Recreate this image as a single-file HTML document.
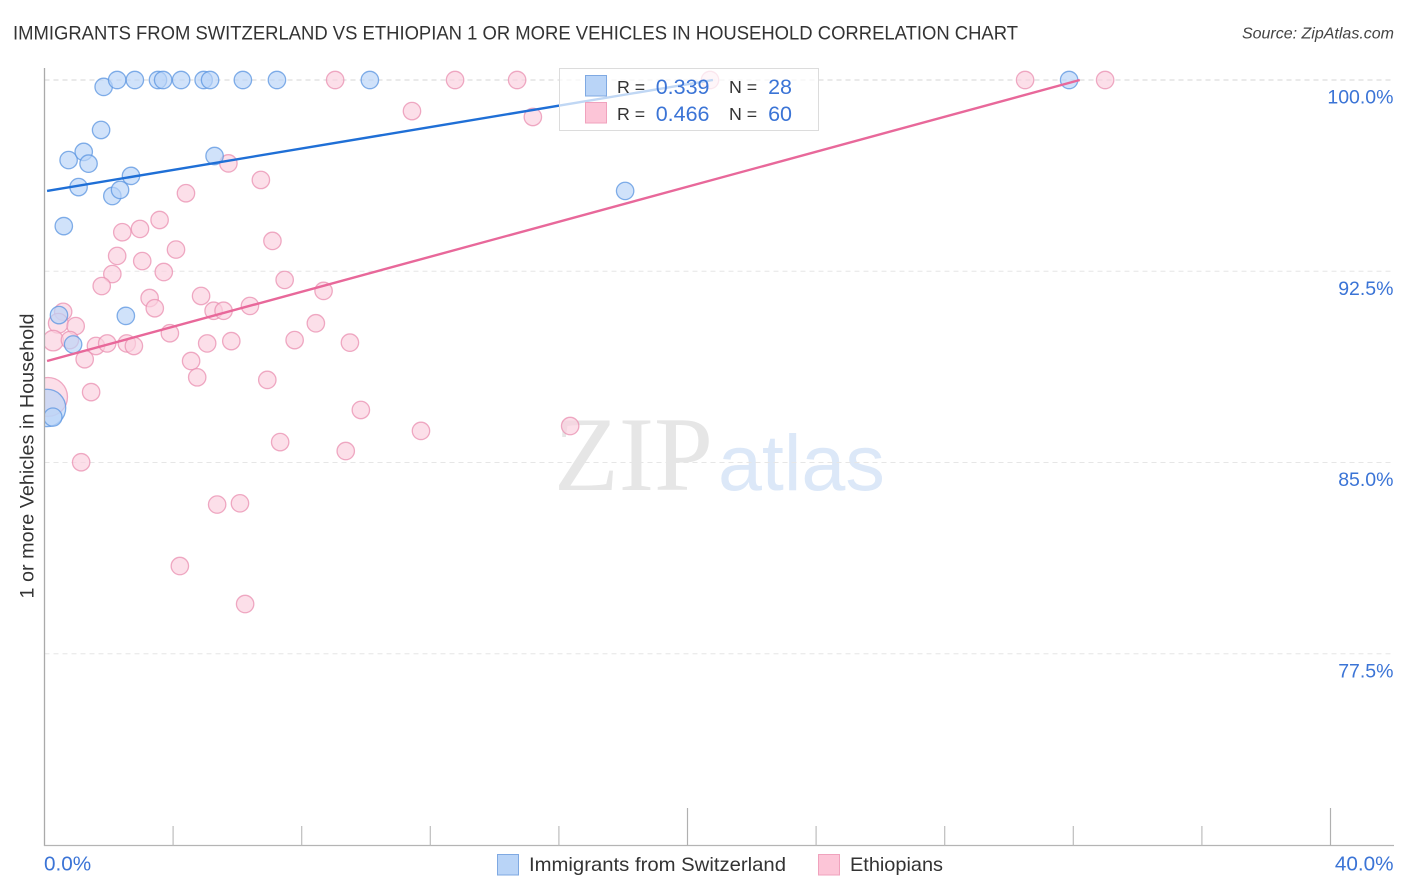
<!DOCTYPE html>
<html lang="en">
<head>
<meta charset="utf-8">
<title>Immigrants from Switzerland vs Ethiopian correlation chart</title>
<style>
html,body{margin:0;padding:0;background:#fff;width:1406px;height:892px;overflow:hidden}
svg{display:block;font-family:"Liberation Sans",sans-serif}
</style>
</head>
<body>
<svg id="chart" width="1406" height="892" viewBox="0 0 1406 892" xmlns="http://www.w3.org/2000/svg">
  <defs><clipPath id="plot-clip"><rect x="44.5" y="60" width="1350" height="786"/></clipPath></defs>
  <text x="13" y="39.5" font-size="19.5" fill="#333" textLength="1005" lengthAdjust="spacingAndGlyphs">IMMIGRANTS FROM SWITZERLAND VS ETHIOPIAN 1 OR MORE VEHICLES IN HOUSEHOLD CORRELATION CHART</text>
  <text x="1394" y="38.5" font-size="16" font-style="italic" fill="#444" text-anchor="end">Source: ZipAtlas.com</text>
  <g>
    <text x="554" y="490" font-family="'Liberation Serif',serif" font-size="106" fill="#e6e6e6">ZIP</text>
    <text x="718" y="490" font-size="79" fill="#dce8f8">atlas</text>
  </g>
  <g id="grid"></g>
  <g id="points" clip-path="url(#plot-clip)"></g>
  <g id="trends"></g>
  <g id="axes">
    <line x1="44.5" y1="68" x2="44.5" y2="846" stroke="#aaa" stroke-width="1.3"/>
    <line x1="44" y1="845.5" x2="1394" y2="845.5" stroke="#b4b4b4" stroke-width="1.3"/>
  </g>
  <g id="tick-labels"></g>
  <text transform="translate(33.5,456) rotate(-90)" font-size="19.5" fill="#333" text-anchor="middle" textLength="285" lengthAdjust="spacingAndGlyphs">1 or more Vehicles in Household</text>
  <g>
    <rect x="559.5" y="68.5" width="259" height="62" fill="#fff" fill-opacity="0.72" stroke="#dcdcdc" stroke-width="1"/>
    <rect x="585.5" y="75.5" width="21" height="20.5" fill="#b9d4f7" stroke="#7fa9e2"/>
    <rect x="585.5" y="102.5" width="21" height="20.5" fill="#fcc5d7" stroke="#f0a2bd"/>
    <text x="617" y="93" font-size="17.8" fill="#333">R =</text>
    <text x="709.5" y="94" font-size="21.5" fill="#3b74d6" text-anchor="end">0.339</text>
    <text x="729" y="93" font-size="17.8" fill="#333">N =</text>
    <text x="792" y="94" font-size="21.5" fill="#3b74d6" text-anchor="end">28</text>
    <text x="617" y="120" font-size="17.8" fill="#333">R =</text>
    <text x="709.5" y="121" font-size="21.5" fill="#3b74d6" text-anchor="end">0.466</text>
    <text x="729" y="120" font-size="17.8" fill="#333">N =</text>
    <text x="792" y="121" font-size="21.5" fill="#3b74d6" text-anchor="end">60</text>
  </g>
  <g>
    <rect x="497.5" y="854.5" width="21" height="20.5" fill="#b9d4f7" stroke="#7fa9e2"/>
    <text x="529" y="871" font-size="19.8" fill="#333" textLength="257" lengthAdjust="spacingAndGlyphs">Immigrants from Switzerland</text>
    <rect x="818.5" y="854.5" width="21" height="20.5" fill="#fcc5d7" stroke="#f0a2bd"/>
    <text x="850" y="871" font-size="19.8" fill="#333" textLength="93" lengthAdjust="spacingAndGlyphs">Ethiopians</text>
  </g>
</svg>
<script>
var blueX = [1.84,2.26,2.81,3.53,3.69,4.25,4.95,5.15,6.17,7.23,10.12,31.87,1.76,0.75,1.22,1.37,1.06,2.11,2.35,2.69,5.29,18.06,0.60,2.53,0.45,0.89,0.08,0.26];
var blueY = [99.73,100,100,100,100,100,100,100,100,100,100,100,98.04,96.86,97.18,96.72,95.80,95.45,95.69,96.24,97.02,95.65,94.27,90.75,90.78,89.63,87.14,86.78];
var blueWeight = [1,1,1,1,1,1,1,1,1,1,1,1,1,1,1,1,1,1,1,1,1,1,1,1,1,1,4.6,1.1];

var pinkX = [9.04,12.77,14.70,20.70,30.50,32.99,11.43,15.19,5.72,6.73,4.40,3.58,2.97,2.42,7.09,4.09,2.26,3.04,3.71,2.11,7.47,1.78,8.68,4.87,3.27,3.43,5.26,5.57,6.39,0.58,0.43,0.97,8.44,3.90,5.81,5.06,7.78,9.50,0.27,0.79,1.60,1.95,2.56,2.78,1.25,4.56,4.75,6.93,1.45,9.84,11.71,16.35,7.33,9.37,1.14,5.37,6.08,4.21,6.24,0.11];
var pinkY = [100,100,100,100,100,100,98.78,98.55,96.73,96.08,95.56,94.51,94.16,94.03,93.69,93.35,93.10,92.90,92.47,92.39,92.16,91.92,91.73,91.53,91.45,91.05,90.95,90.95,91.14,90.91,90.46,90.35,90.46,90.07,89.76,89.67,89.80,89.70,89.78,89.80,89.57,89.67,89.67,89.57,89.05,88.98,88.34,88.24,87.76,87.06,86.24,86.43,85.80,85.45,85.01,83.35,83.40,80.94,79.45,87.57];
var pinkWeight = [1,1,1,1,1,1,1,1,1,1,1,1,1,1,1,1,1,1,1,1,1,1,1,1,1,1,1,1,1,1,1.3,1,1,1,1,1,1,1,1.4,1,1,1,1,1,1,1,1,1,1,1,1,1,1,1,1,1,1,1,1,5];

var blueTrendX = [0.08,20.79];
var blueTrendY = [95.65,100];
var pinkTrendX = [0.08,32.2];
var pinkTrendY = [88.98,100];

var yTicks = [100,92.5,85,77.5];
var yTickLabels = ["100.0%","92.5%","85.0%","77.5%"];
var xTicks = [4,8,12,16,20,24,28,32,36,40];
var xMajorTicks = [20,40];
var xEndTicks = [0,40];
var xEndLabels = ["0.0%","40.0%"];

function xScale(v){ return 44.5 + v * 32.15; }
function yScale(v){ return 80 + (100 - v) * 25.5; }

var NS = "http://www.w3.org/2000/svg";
function make(tag, parent, attrs){
  var el = document.createElementNS(NS, tag);
  for (var k in attrs) el.setAttribute(k, attrs[k]);
  parent.appendChild(el);
  return el;
}

var gridG = document.getElementById("grid");
var axesG = document.getElementById("axes");
var labelG = document.getElementById("tick-labels");
var pointsG = document.getElementById("points");
var trendsG = document.getElementById("trends");

yTicks.forEach(function(t, i){
  var line = make("line", gridG, {x1:44.5, x2:1394, y1:yScale(t), y2:yScale(t), stroke:i===0?"#d4d4d4":"#e6e6e6", "stroke-width":1, "stroke-dasharray":"5 4"});
  
  
  var label = make("text", labelG, {x:1393.5, y:yScale(t)+23.5, "font-size":19.5, fill:"#3b74d6", "text-anchor":"end"});
  label.textContent = yTickLabels[i];
  
  
});

xTicks.forEach(function(t){
  var major = xMajorTicks.indexOf(t) >= 0;
  var tick = make("line", axesG, {x1:xScale(t), x2:xScale(t), y1:major?808:826, y2:845.5, stroke:major?"#b0b0b0":"#bdbdbd", "stroke-width":1.2});
  
  
});

xEndTicks.forEach(function(t, i){
  var label = make("text", labelG, {x:i===0?xScale(t)-0.5:1393.5, y:870.5, "font-size":20.7, fill:"#3b74d6", "text-anchor":i===0?"start":"end"});
  label.textContent = xEndLabels[i];
  
  
});

function drawPoints(xs, ys, ws, fill, stroke){
  xs.forEach(function(x, i){
    var c = make("circle", pointsG, {cx:xScale(x), cy:yScale(ys[i]), r:8.7*Math.sqrt(ws[i]), fill:fill, "fill-opacity":0.68, stroke:stroke, "stroke-opacity":0.75, "stroke-width":1.3});
    
    
  });
}
drawPoints(pinkX, pinkY, pinkWeight, "#fbd0df", "#ea8fb0");
drawPoints(blueX, blueY, blueWeight, "#b9d4f7", "#5a94e0");

var blueLine = make("line", trendsG, {x1:xScale(blueTrendX[0]), y1:yScale(blueTrendY[0]), x2:xScale(blueTrendX[1]), y2:yScale(blueTrendY[1]), stroke:"#1f6fd6", "stroke-width":2.4});


var pinkLine = make("line", trendsG, {x1:xScale(pinkTrendX[0]), y1:yScale(pinkTrendY[0]), x2:xScale(pinkTrendX[1]), y2:yScale(pinkTrendY[1]), stroke:"#e8689a", "stroke-width":2.4});


</script>
</body>
</html>
